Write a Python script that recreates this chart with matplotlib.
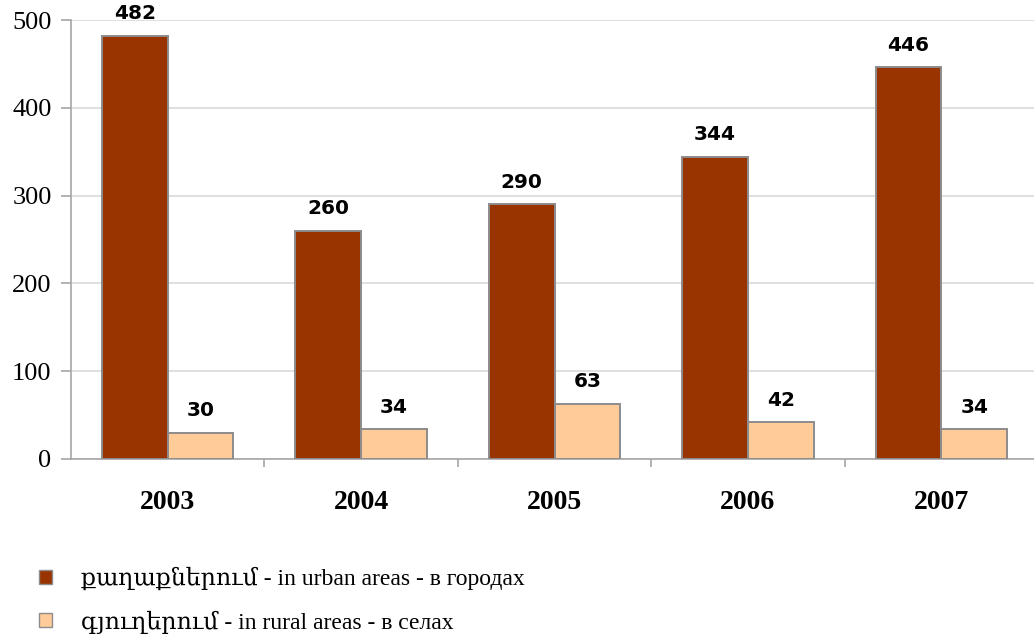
import numpy as np
import matplotlib
matplotlib.use('Agg')
import matplotlib.pyplot as plt
from matplotlib.patches import Patch

years = ['2003', '2004', '2005', '2006', '2007']
urban = [482, 260, 290, 344, 446]
rural = [30, 34, 63, 42, 34]
labels = ['քաղաքներում - in urban areas - в городах',
          'գյուղերում - in rural areas - в селах']
colors = ['#993300', '#FFCC99']

serif = ['Liberation Serif', 'DejaVu Serif', 'DejaVu Sans']

fig = plt.figure(figsize=(10.34, 6.35), dpi=100)
ax = fig.add_axes([0.0687, 0.2772, 0.9352, 0.6913])

x = np.arange(len(years))
w = 0.34
b1 = ax.bar(x - w/2, urban, w, color=colors[0], edgecolor='#8c8c8c', linewidth=1.4, zorder=3)
b2 = ax.bar(x + w/2, rural, w, color=colors[1], edgecolor='#8c8c8c', linewidth=1.4, zorder=3)

for bars, vals in ((b1, urban), (b2, rural)):
    for r, v in zip(bars, vals):
        ax.annotate(str(v), (r.get_x() + r.get_width()/2, v), xytext=(0, 9),
                    textcoords='offset points', ha='center', va='bottom',
                    fontsize=14.5, fontweight='bold', family='DejaVu Sans')

ax.set_xlim(-0.5, 4.5)
ax.set_ylim(0, 500)
ax.set_yticks(range(0, 501, 100))
ax.yaxis.grid(True, color='#d9d9d9', linewidth=1.2, zorder=0)
ax.set_axisbelow(True)
for s in ['top', 'right']:
    ax.spines[s].set_visible(False)
ax.spines['left'].set_color('#a6a6a6')
ax.spines['bottom'].set_color('#a6a6a6')
ax.spines['left'].set_linewidth(1.2)
ax.spines['bottom'].set_linewidth(1.2)

ax.set_xticks(x)
ax.set_xticklabels(years, family=serif, fontsize=20, fontweight='bold')
ax.set_xticks(np.arange(0.5, 4.5, 1), minor=True)
ax.tick_params(axis='x', which='major', length=0, pad=22)
ax.tick_params(axis='x', which='minor', length=6, color='#a6a6a6', width=1.2)
ax.tick_params(axis='y', length=7, color='#a6a6a6', width=1.2, pad=7)
for t in ax.get_yticklabels():
    t.set_family(serif)
    t.set_fontsize(19)

handles = [Patch(facecolor=c, edgecolor='#8c8c8c') for c in colors]
fig.legend(handles, labels, loc='upper left', bbox_to_anchor=(0.029, 0.122),
           frameon=False, handlelength=0.55, handleheight=0.55, handletextpad=1.2,
           labelspacing=0.85, prop={'family': serif, 'size': 17}, borderaxespad=0)

fig.savefig('out.png', dpi=100)
